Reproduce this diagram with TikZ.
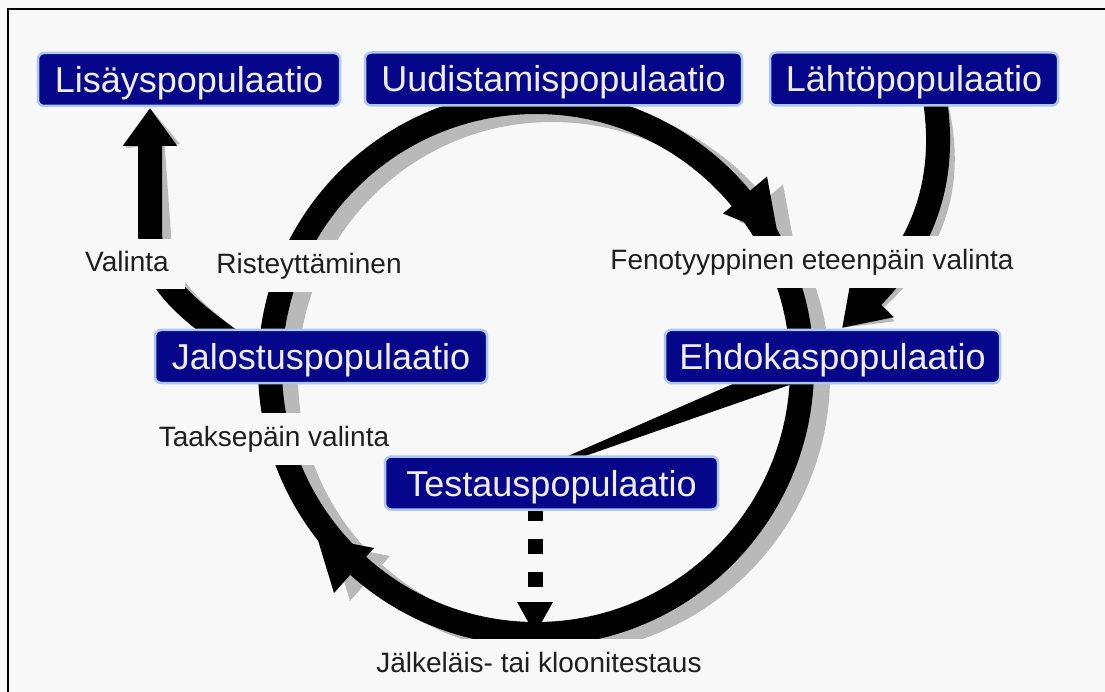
\documentclass[tikz,border=0pt]{standalone}
\usepackage{fontspec}
\setmainfont{Liberation Sans}
\usetikzlibrary{arrows.meta}
\definecolor{bg}{HTML}{F8F8F8}
\definecolor{navy}{RGB}{6,6,138}
\definecolor{glow}{RGB}{170,200,240}
\definecolor{shadowgray}{RGB}{185,185,185}
\definecolor{boxtext}{RGB}{238,238,255}
\definecolor{labtext}{RGB}{30,30,30}
\begin{document}
\begin{tikzpicture}[x=1pt,y=-1pt,
  popbox/.style={fill=navy, draw=glow, line width=2.5pt, rounded corners=6pt,
    text=boxtext, font=\fontsize{36}{40}\selectfont, text height=26pt, text depth=0pt,
    minimum height=53pt, inner sep=0pt},
  lab/.style={fill=bg, text=labtext, font=\fontsize{28}{32}\selectfont,
    text height=21pt, text depth=6pt, minimum height=52pt, inner xsep=3pt, inner ysep=0pt},
  bigline/.style={line width=24pt},
  shadowshift/.style={shift={(9,5)}},
  ringshadow/.style={shift={(16,8)}}
  ]
\useasboundingbox (0,0) rectangle (1105,692);
\fill[bg] (0,0) rectangle (1105,692);
\draw[line width=2pt] (8,692) -- (8,9.5) -- (1105,9.5);

% named coordinates
\coordinate (rc) at (536,368);
\coordinate (va0) at (230,340);
\coordinate (va1) at (150,108);
\coordinate (la0) at (935,100);
\coordinate (la1) at (842,328);
\coordinate (d0) at (535,506);
\coordinate (d1) at (535,603);

% ---------- shadows ----------
\begin{scope}
\clip (0,0) rectangle (1105,638);
\draw[shadowgray, bigline] ([ringshadow]rc) circle[radius=266pt];
\end{scope}
\fill[shadowgray, ringshadow] (778,236) -- (767,176.5) -- (723,213.5) -- cycle;
\fill[shadowgray, ringshadow] (317,537) -- (334,593) -- (374,548) -- cycle;
\draw[shadowgray, bigline, shadowshift, -{Triangle[length=38pt,width=52pt]}]
  (va0) .. controls (175,300) and (150,275) .. (150,230) -- (va1);
\draw[shadowgray, bigline, shadowshift, -{Triangle[length=44pt,width=56pt]}]
  (la0) .. controls (946,175) and (928,240) .. (la1);

% ---------- black ----------
\begin{scope}
\clip (0,0) rectangle (1105,638);
\draw[black, bigline] (rc) circle[radius=266pt];
\end{scope}
\fill[black] (778,236) -- (767,176.5) -- (723,213.5) -- cycle;
\fill[black] (317,537) -- (334,593) -- (374,548) -- cycle;
\draw[black, bigline, -{Triangle[length=38pt,width=52pt]}]
  (va0) .. controls (175,300) and (150,275) .. (150,230) -- (va1);
\draw[black, bigline, -{Triangle[length=44pt,width=56pt]}]
  (la0) .. controls (946,175) and (928,240) .. (la1);
\fill[black] (735,383) -- (795,383) -- (585,456) -- (568,456) -- cycle;
\draw[black, line width=15pt, dash pattern=on 15pt off 18pt] (d0) -- (d1);
\fill[black] (517,602) -- (553,602) -- (535,634) -- cycle;

% ---------- labels ----------
\node[lab, inner xsep=16pt, minimum height=50pt] (valinta) at (127,264.5) {Valinta};
\node[lab] (rist) at (309,266) {Risteyttäminen};
\node[lab] (feno) at (812,262) {Fenotyyppinen eteenpäin valinta};
\node[lab] (taak) at (274,439) {Taaksepäin valinta};
\node[lab] (jalk) at (539,664.5) {Jälkeläis- tai kloonitestaus};

% ---------- boxes ----------
\node[popbox, minimum width=302pt] (lis) at (189,79.5) {Lisäyspopulaatio};
\node[popbox, minimum width=377pt] (uud) at (553.5,79) {Uudistamispopulaatio};
\node[popbox, minimum width=288pt] (lah) at (914,79) {Lähtöpopulaatio};
\node[popbox, minimum width=332pt] (jal) at (321,356.5) {Jalostuspopulaatio};
\node[popbox, minimum width=335pt] (ehd) at (832.5,356.5) {Ehdokaspopulaatio};
\node[popbox, minimum width=333pt] (tes) at (551.5,483) {Testauspopulaatio};
\end{tikzpicture}
\end{document}
